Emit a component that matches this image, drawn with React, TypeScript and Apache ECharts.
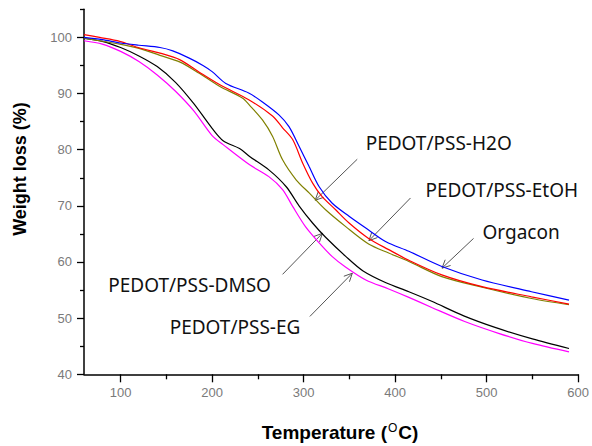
import React, { useEffect, useRef } from "react";
import * as echarts from "echarts";

const tempOrgacon = [60, 80, 100, 120, 143, 157, 175, 190, 200, 215, 240, 255, 273, 284, 295, 306, 317, 331, 350, 371, 390, 415, 451, 495, 549, 590];
const wOrgacon = [100.0, 99.6, 99.0, 98.6, 98.2, 97.6, 96.3, 95.0, 93.9, 91.8, 90.1, 88.5, 86.2, 84.1, 80.6, 77.0, 73.4, 70.5, 68.1, 65.7, 63.6, 61.9, 59.2, 56.8, 54.7, 53.2];

const tempEtOH = [60, 77, 99, 121, 143, 165, 186, 208, 240, 266, 277, 288, 299, 310, 320, 335, 350, 371, 393, 415, 451, 495, 549, 590];
const wEtOH = [100.5, 100.0, 99.3, 98.1, 97.2, 96.0, 93.8, 91.6, 88.9, 86.0, 83.9, 81.8, 77.6, 74.0, 71.7, 69.3, 66.9, 64.2, 62.2, 60.3, 57.7, 55.6, 53.8, 52.5];

const tempH2O = [60, 77, 99, 121, 143, 165, 186, 208, 233, 241, 255, 266, 277, 292, 306, 324, 346, 371, 393, 415, 451, 495, 549, 590];
const wH2O = [99.9, 99.4, 98.8, 98.0, 96.8, 95.6, 93.6, 91.3, 89.2, 87.9, 85.3, 82.4, 78.2, 74.6, 72.3, 69.3, 66.3, 63.2, 61.6, 60.1, 57.4, 55.5, 53.5, 52.4];

const tempDMSO = [60, 80, 100, 120, 140, 160, 180, 200, 212, 230, 241, 262, 281, 295, 310, 324, 346, 365, 390, 415, 440, 475, 510, 550, 590];
const wDMSO = [99.8, 99.3, 98.2, 96.7, 94.8, 92.0, 88.2, 83.8, 81.6, 80.2, 78.8, 76.4, 73.4, 70.0, 66.9, 64.4, 61.0, 58.4, 56.3, 54.7, 53.0, 50.4, 48.3, 46.3, 44.6];

const tempEG = [60, 80, 100, 120, 140, 160, 180, 200, 212, 241, 262, 277, 288, 302, 317, 331, 345, 368, 393, 415, 440, 476, 513, 550, 590];
const wEG = [99.4, 98.8, 97.5, 95.7, 93.3, 90.4, 86.9, 82.5, 80.9, 77.3, 75.2, 72.9, 69.9, 66.3, 63.4, 61.0, 59.2, 56.8, 55.2, 53.7, 51.9, 49.4, 47.3, 45.5, 44.0];

const xMajorTicks = [100, 200, 300, 400, 500, 600];
const xMinorTicks = [150, 250, 350, 450, 550];
const yMajorTicks = [40, 50, 60, 70, 80, 90, 100];
const yMinorTicks = [45, 55, 65, 75, 85, 95, 105];

const seriesNames = ["Orgacon", "PEDOT/PSS-EtOH", "PEDOT/PSS-H2O", "PEDOT/PSS-DMSO", "PEDOT/PSS-EG"];
const seriesColors = ["#0000ff", "#ff0000", "#808000", "#000000", "#ff00ff"];
const seriesTemps = [tempOrgacon, tempEtOH, tempH2O, tempDMSO, tempEG];
const seriesWeights = [wOrgacon, wEtOH, wH2O, wDMSO, wEG];

// annotation: label, text anchor (data), arrow start (data), arrow tip (data)
const annLabels = ["PEDOT/PSS-H2O", "PEDOT/PSS-EtOH", "Orgacon", "PEDOT/PSS-DMSO", "PEDOT/PSS-EG"];
const annText = [[367.8, 81.2], [433.1, 72.9], [495.5, 65.4], [86.5, 55.9], [153.6, 48.4]];
const annFrom = [[358.6, 78.3], [416.8, 71.4], [485.7, 64.2], [277, 57.8], [306.8, 50.3]];
const annTo = [[312.6, 71.0], [371.4, 63.8], [451.2, 58.9], [320.5, 65.1], [353.2, 58.0]];

export default function App() {
  const ref = useRef<HTMLDivElement>(null);
  useEffect(() => {
    if (!ref.current) return;
    const chart = echarts.init(ref.current, null, { renderer: "svg" });
    const labelStyle = { color: "#7a7a7a", fontSize: 13, fontFamily: "Liberation Sans, Arial, sans-serif", margin: 12 };
    const option: any = {
      animation: false,
      grid: { left: 84, right: 12, top: 9.3, bottom: 71.7, containLabel: false },
      xAxis: [
        {
          type: "value", min: 60, max: 600,
          axisLine: { lineStyle: { color: "#000", width: 1.5 } },
          axisTick: { customValues: xMajorTicks, length: 8, lineStyle: { color: "#000", width: 1.3 } },
          axisLabel: { ...labelStyle, customValues: xMajorTicks },
          splitLine: { show: false },
        },
        {
          type: "value", min: 60, max: 600, position: "bottom",
          axisLine: { show: false },
          axisTick: { customValues: xMinorTicks, length: 5, lineStyle: { color: "#000", width: 1.3 } },
          axisLabel: { show: false },
          splitLine: { show: false },
        },
      ],
      yAxis: [
        {
          type: "value", min: 40, max: 105,
          axisLine: { show: true, lineStyle: { color: "#000", width: 1.5 } },
          axisTick: { show: true, customValues: yMajorTicks, length: 7, lineStyle: { color: "#000", width: 1.3 } },
          axisLabel: { ...labelStyle, customValues: yMajorTicks },
          splitLine: { show: false },
        },
        {
          type: "value", min: 40, max: 105, position: "left",
          axisLine: { show: false },
          axisTick: { show: true, customValues: yMinorTicks, length: 4, lineStyle: { color: "#000", width: 1.3 } },
          axisLabel: { show: false },
          splitLine: { show: false },
        },
      ],
      series: seriesNames.map((name, i) => ({
        name,
        type: "line",
        showSymbol: false,
        smooth: 0.3,
        data: seriesTemps[i].map((t, j) => [t, seriesWeights[i][j]]),
        lineStyle: { color: seriesColors[i], width: 1.2 },
        itemStyle: { color: seriesColors[i] },
        z: 5 - i,
      })),
    };
    chart.setOption(option);

    const graphics: any[] = [];
    const annFont = "19px 'Noto Sans', 'Open Sans', sans-serif";
    annLabels.forEach((label, i) => {
      const tp = chart.convertToPixel({ gridIndex: 0 }, annText[i]) as number[];
      const p0 = chart.convertToPixel({ gridIndex: 0 }, annFrom[i]) as number[];
      const p1 = chart.convertToPixel({ gridIndex: 0 }, annTo[i]) as number[];
      graphics.push({
        type: "text", x: tp[0], y: tp[1],
        style: { text: label, font: annFont, fill: "#111", textVerticalAlign: "middle", textAlign: "left" },
      });
      graphics.push({
        type: "line", shape: { x1: p0[0], y1: p0[1], x2: p1[0], y2: p1[1] },
        style: { stroke: "#555", lineWidth: 1 },
      });
      const ang = Math.atan2(p1[1] - p0[1], p1[0] - p0[0]);
      const hl = 9, ha = 0.45;
      graphics.push({
        type: "polyline",
        shape: {
          points: [
            [p1[0] - hl * Math.cos(ang - ha), p1[1] - hl * Math.sin(ang - ha)],
            [p1[0], p1[1]],
            [p1[0] - hl * Math.cos(ang + ha), p1[1] - hl * Math.sin(ang + ha)],
          ],
        },
        style: { stroke: "#555", lineWidth: 1, fill: null },
      });
    });
    graphics.push({
      type: "text", x: 19.5, y: 169, rotation: Math.PI / 2,
      style: {
        text: "Weight loss (%)", font: "bold 18px 'Liberation Sans', Arial, sans-serif",
        fill: "#000", textAlign: "center", textVerticalAlign: "middle",
      },
    });
    graphics.push({
      type: "text", x: 340, y: 432,
      style: {
        text: "{a|Temperature (}{s|O}{a|C)}",
        textAlign: "center", textVerticalAlign: "middle",
        rich: {
          a: { fill: "#000", fontSize: 19, fontWeight: "bold", fontFamily: "'Liberation Sans', Arial, sans-serif" },
          s: { fill: "#000", fontSize: 12, fontFamily: "'Liberation Sans', Arial, sans-serif", verticalAlign: "top", padding: [0, 1, 9, 1] },
        },
      },
    });
    chart.setOption({ graphic: graphics });
    return () => chart.dispose();
  }, []);
  return <div ref={ref} style={{ width: 592, height: 446, position: "absolute", left: 0, top: 0 }} />;
}
